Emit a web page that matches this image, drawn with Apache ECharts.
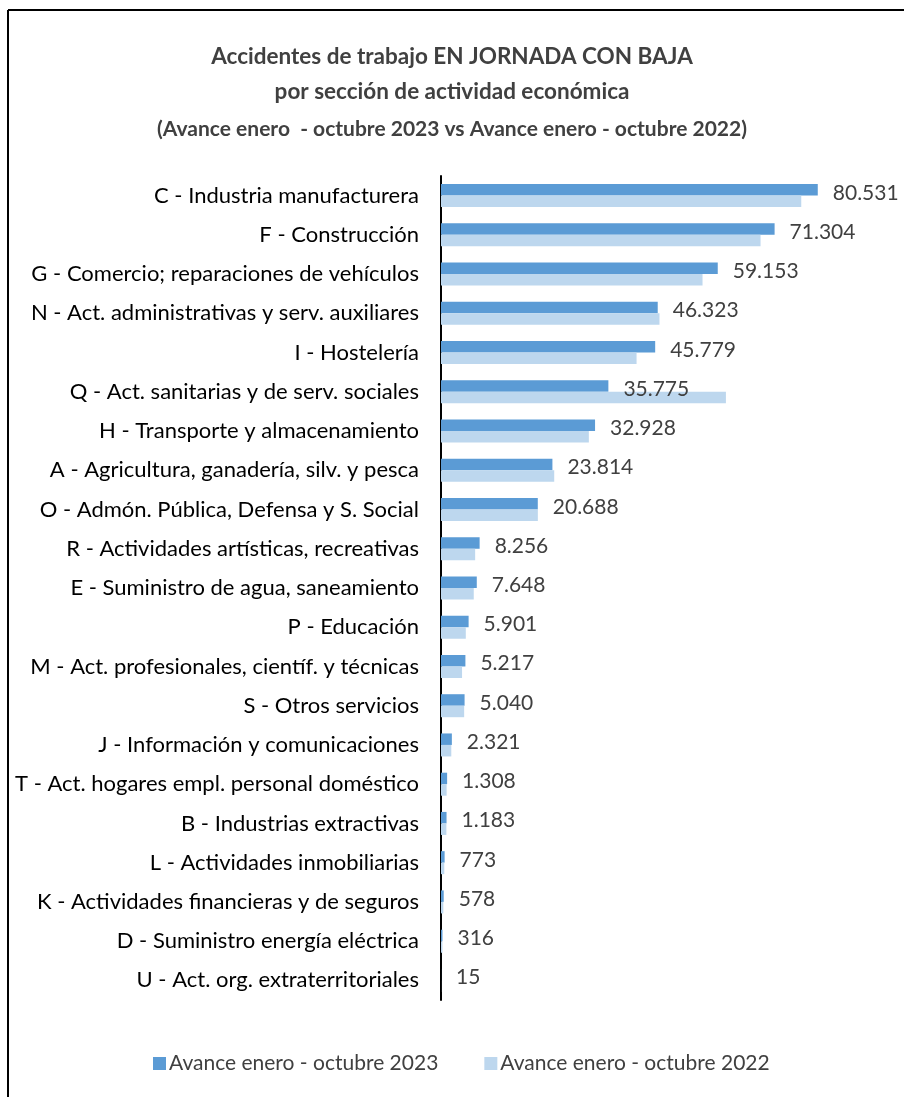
<!DOCTYPE html>
<html>
<head>
<meta charset="utf-8">
<script src="https://cdn.jsdelivr.net/npm/echarts@6/dist/echarts.min.js"></script>
<style>
  html, body { margin: 0; padding: 0; background: #fff; }
  #chart { width: 904px; height: 1097px; }
</style>
</head>
<body>
<div id="chart"></div>
<script>
// secciones de actividad (de arriba abajo)
var categories = [
  'C - Industria manufacturera',
  'F - Construcción',
  'G - Comercio; reparaciones de vehículos',
  'N - Act. administrativas y serv. auxiliares',
  'I - Hostelería',
  'Q - Act. sanitarias y de serv. sociales',
  'H - Transporte y almacenamiento',
  'A - Agricultura, ganadería, silv. y pesca',
  'O - Admón. Pública, Defensa y S. Social',
  'R - Actividades artísticas, recreativas',
  'E - Suministro de agua, saneamiento',
  'P - Educación',
  'M - Act. profesionales, científ. y técnicas',
  'S - Otros servicios',
  'J - Información y comunicaciones',
  'T - Act. hogares empl. personal doméstico',
  'B - Industrias extractivas',
  'L - Actividades inmobiliarias',
  'K - Actividades financieras y de seguros',
  'D - Suministro energía eléctrica',
  'U - Act. org. extraterritoriales'
];
var serie2023 = [80531, 71304, 59153, 46323, 45779, 35775, 32928, 23814, 20688, 8256, 7648, 5901, 5217, 5040, 2321, 1308, 1183, 773, 578, 316, 15];
// 2022 estimado a partir de la longitud de las barras
var serie2022 = [77000, 68300, 55900, 46700, 41800, 60900, 31600, 24200, 20700, 7300, 7000, 5300, 4500, 4950, 2200, 1200, 1150, 700, 500, 300, 20];
var legendNames = ['Avance enero - octubre 2023', 'Avance enero - octubre 2022'];

function fmt(v) {
  return String(v).replace(/\B(?=(\d{3})+(?!\d))/g, '.');
}

var FONT = 'Lato, "Noto Sans", sans-serif';
var chartDom = document.getElementById('chart');
var myChart = echarts.init(chartDom, null, { renderer: 'canvas' });

var option = {
  animation: false,
  backgroundColor: '#fff',
  title: [
    {
      text: 'Accidentes de trabajo EN JORNADA CON BAJA',
      left: 'center', top: 40,
      textStyle: { fontFamily: FONT, fontSize: 22.5, fontWeight: 'bold', color: '#404040' }
    },
    {
      text: 'por sección de actividad económica',
      left: 'center', top: 75,
      textStyle: { fontFamily: FONT, fontSize: 22.5, fontWeight: 'bold', color: '#404040' }
    },
    {
      text: '(Avance enero  - octubre 2023 vs Avance enero - octubre 2022)',
      left: 'center', top: 114,
      textStyle: { fontFamily: FONT, fontSize: 21, fontWeight: 'bold', color: '#404040' }
    }
  ],
  graphic: [
    { type: 'line', shape: { x1: 8, y1: 10, x2: 904, y2: 10 }, style: { stroke: '#000', lineWidth: 2 } },
    { type: 'line', shape: { x1: 8, y1: 10, x2: 8, y2: 1097 }, style: { stroke: '#000', lineWidth: 2 } }
  ],
  legend: {
    data: legendNames,
    top: 1048,
    left: 148,
    itemWidth: 13,
    itemHeight: 13,
    itemGap: 46,
    icon: 'rect',
    textStyle: { fontFamily: FONT, fontSize: 21, color: '#404040', padding: [0, 0, 0, -2] }
  },
  grid: {
    left: 441,
    right: 4.5,
    top: 176,
    height: 824
  },
  xAxis: {
    type: 'value',
    min: 0,
    max: 98000,
    show: false,
    splitLine: { show: false }
  },
  yAxis: {
    type: 'category',
    data: categories,
    inverse: true,
    axisLine: { show: true, lineStyle: { color: '#000', width: 2 } },
    axisTick: { show: false },
    axisLabel: {
      margin: 22,
      fontFamily: FONT,
      fontSize: 22,
      color: '#000'
    }
  },
  series: [
    {
      name: legendNames[0],
      type: 'bar',
      data: serie2023,
      barWidth: 11.5,
      barGap: '0%',
      itemStyle: { color: '#5B9BD5' },
      label: {
        show: true,
        position: 'right',
        distance: 15,
        offset: [0, 3],
        fontFamily: FONT,
        fontSize: 21,
        color: '#404040',
        formatter: function (p) { return fmt(p.value); }
      }
    },
    {
      name: legendNames[1],
      type: 'bar',
      data: serie2022,
      barWidth: 11.5,
      itemStyle: { color: '#BDD7EE' }
    }
  ]
};

option && myChart.setOption(option);
</script>
</body>
</html>
